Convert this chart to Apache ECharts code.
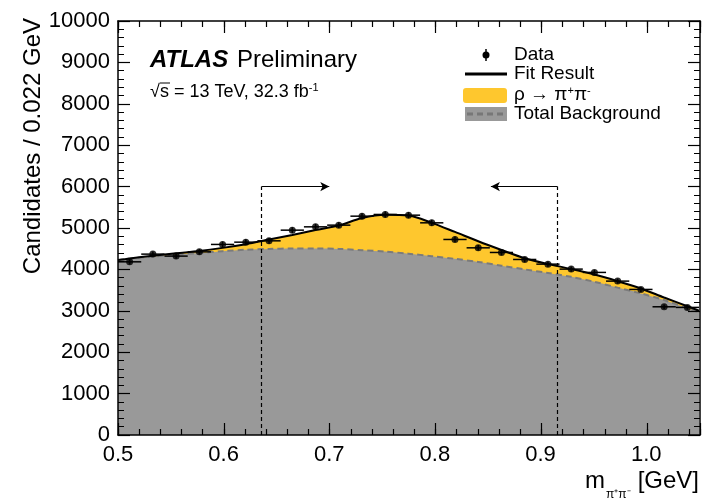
<!DOCTYPE html>
<html>
<head>
<meta charset="utf-8">
<title>rho to pi pi fit</title>
<script src="https://cdn.jsdelivr.net/npm/echarts@6.0.0/dist/echarts.min.js"></script>
<style>
  html, body { margin: 0; padding: 0; background: #fff; }
  #chart { width: 702px; height: 499px; }
</style>
</head>
<body>
<div id="chart"></div>
<script>
// bin centres (bin width 0.022 GeV)
const binCenters = [0.511, 0.533, 0.555, 0.577, 0.599, 0.621, 0.643, 0.665, 0.687, 0.709,
  0.731, 0.753, 0.775, 0.797, 0.819, 0.841, 0.863, 0.885, 0.907, 0.929,
  0.951, 0.973, 0.995, 1.017, 1.039];
const dataCounts = [4183, 4369, 4321, 4424, 4603, 4658, 4690, 4948, 5028, 5069,
  5286, 5327, 5310, 5125, 4723, 4521, 4409, 4240, 4127, 4007,
  3927, 3717, 3516, 3097, 3082];
const dataErrors = [65, 66, 66, 67, 68, 68, 68, 70, 71, 71,
  73, 73, 73, 72, 69, 67, 66, 65, 64, 63,
  63, 61, 59, 56, 56];

// curves read at the bin centres plus the range ends
const curveX = [0.5, 0.511, 0.533, 0.555, 0.577, 0.599, 0.621, 0.643, 0.665, 0.687, 0.709,
  0.731, 0.753, 0.775, 0.797, 0.819, 0.841, 0.863, 0.885, 0.907, 0.929,
  0.951, 0.973, 0.995, 1.017, 1.039, 1.05];
const fitTotal = [4225, 4265, 4330, 4390, 4445, 4520, 4610, 4720, 4830, 4950, 5060,
  5240, 5320, 5300, 5125, 4905, 4680, 4470, 4270, 4130, 4010,
  3875, 3715, 3540, 3320, 3110, 3000];
const background = [4220, 4260, 4310, 4360, 4395, 4440, 4475, 4495, 4505, 4505, 4495,
  4465, 4430, 4380, 4320, 4255, 4180, 4090, 4000, 3915, 3820,
  3700, 3560, 3420, 3260, 3060, 2965];

// mass window cuts
const cutLow = 0.636;
const cutHigh = 0.916;
const cutTop = 6000;
const arrowLowEnd = 0.70;
const arrowHighEnd = 0.853;

const yRange = [0, 10000];
const xRange = [0.5, 1.05];

const BIN_HALF = 0.011;
const FONT = "'Liberation Sans', Arial, Helvetica, sans-serif";
const YELLOW = "#fec72e";
const GREY = "#999999";

const chart = echarts.init(document.getElementById("chart"));

const pair = (xs, ys) => xs.map((x, i) => [x, ys[i]]);
const plotBox = { left: 118, right: 2, top: 21, bottom: 64 };

// grid 0 holds the data and the tick labels, grid 1 (same box) holds the frame and ticks
function labelX() {
  return {
    type: "value",
    gridIndex: 0,
    min: xRange[0],
    max: xRange[1],
    interval: 0.1,
    axisLine: { show: false },
    axisTick: { show: false },
    axisLabel: {
      color: "#000",
      fontSize: 22,
      fontFamily: FONT,
      margin: 9,
      formatter: (v) => (v > 1.01 ? "" : v.toFixed(1)),
    },
    splitLine: { show: false },
  };
}

function labelY() {
  return {
    type: "value",
    gridIndex: 0,
    min: yRange[0],
    max: yRange[1],
    interval: 1000,
    axisLine: { show: false },
    axisTick: { show: false },
    axisLabel: { color: "#000", fontSize: 22, fontFamily: FONT, margin: 8, formatter: (v) => String(v) },
    splitLine: { show: false },
  };
}

function frameX(pos, interval, len, showLine) {
  return {
    type: "value",
    gridIndex: 1,
    position: pos,
    z: 10,
    min: xRange[0],
    max: xRange[1],
    interval: interval,
    axisLine: { show: showLine, onZero: false, lineStyle: { color: "#000", width: 1.5 } },
    axisTick: { show: true, inside: true, length: len, lineStyle: { color: "#000", width: 1.2 } },
    axisLabel: { show: false },
    splitLine: { show: false },
  };
}

function frameY(pos) {
  return {
    type: "value",
    gridIndex: 1,
    position: pos,
    z: 10,
    min: yRange[0],
    max: yRange[1],
    interval: 1000,
    axisLine: { show: true, onZero: false, lineStyle: { color: "#000", width: 1.5 } },
    axisTick: { show: true, inside: true, length: 12, lineStyle: { color: "#000", width: 1.2 } },
    minorTick: { show: true, splitNumber: 5, length: 6, lineStyle: { color: "#000" } },
    axisLabel: { show: false },
    splitLine: { show: false },
  };
}

const option = {
  animation: false,
  grid: [Object.assign({}, plotBox), Object.assign({}, plotBox)],
  xAxis: [
    labelX(),
    frameX("bottom", 0.1, 12, true),
    frameX("bottom", 0.02, 6, false),
    frameX("top", 0.1, 12, true),
    frameX("top", 0.02, 6, false),
  ],
  yAxis: [labelY(), frameY("left"), frameY("right")],
  series: [
    {
      name: "rho",
      type: "line",
      data: pair(curveX, fitTotal),
      smooth: 0.3,
      symbol: "none",
      lineStyle: { width: 0 },
      areaStyle: { color: YELLOW, opacity: 1 },
      z: 1,
    },
    {
      name: "Total Background",
      type: "line",
      data: pair(curveX, background),
      smooth: 0.3,
      symbol: "none",
      lineStyle: { color: "#7b7b7b", width: 2, type: [6, 4] },
      areaStyle: { color: GREY, opacity: 1 },
      z: 2,
    },
    {
      name: "Fit Result",
      type: "line",
      data: pair(curveX, fitTotal),
      smooth: 0.3,
      symbol: "none",
      lineStyle: { color: "#000", width: 2 },
      z: 3,
      markLine: {
        silent: true,
        symbol: "none",
        label: { show: false },
        lineStyle: { color: "#000", width: 1.2, type: "solid" },
        data: [
          [
            { coord: [cutLow, 0], lineStyle: { type: [4, 3], color: "#000", width: 1.2 } },
            { coord: [cutLow, cutTop] },
          ],
          [
            { coord: [cutHigh, 0], lineStyle: { type: [4, 3], color: "#000", width: 1.2 } },
            { coord: [cutHigh, cutTop] },
          ],
          [
            { coord: [cutLow, cutTop] },
            { coord: [arrowLowEnd, cutTop], symbol: "arrow", symbolSize: [7, 9] },
          ],
          [
            { coord: [cutHigh, cutTop] },
            { coord: [arrowHighEnd, cutTop], symbol: "arrow", symbolSize: [7, 9] },
          ],
        ],
      },
    },
    {
      name: "errors",
      type: "custom",
      data: binCenters.map((x, i) => [x, dataCounts[i], dataErrors[i]]),
      z: 4,
      renderItem: (params, api) => {
        const x = api.value(0);
        const y = api.value(1);
        const e = api.value(2);
        const l = api.coord([x - BIN_HALF, y]);
        const r = api.coord([x + BIN_HALF, y]);
        const t = api.coord([x, y + e]);
        const b = api.coord([x, y - e]);
        return {
          type: "group",
          children: [
            { type: "line", shape: { x1: l[0], y1: l[1], x2: r[0], y2: r[1] }, style: { stroke: "#000", lineWidth: 1.5 } },
            { type: "line", shape: { x1: t[0], y1: t[1], x2: b[0], y2: b[1] }, style: { stroke: "#000", lineWidth: 1.5 } },
          ],
        };
      },
    },
    {
      name: "Data",
      type: "scatter",
      data: pair(binCenters, dataCounts),
      symbol: "circle",
      symbolSize: 7,
      itemStyle: { color: "#000" },
      z: 5,
    },
  ],
  graphic: [
    // y axis title
    {
      type: "text",
      x: 33,
      y: 18,
      rotation: Math.PI / 2,
      style: {
        text: "Candidates / 0.022 GeV",
        font: "24px " + FONT,
        fill: "#000",
        align: "right",
        verticalAlign: "middle",
      },
    },
    // x axis title
    {
      type: "text",
      x: 585,
      y: 493,
      style: { text: "m", font: "24px " + FONT, fill: "#000", align: "left", verticalAlign: "bottom" },
    },
    {
      type: "text",
      x: 606,
      y: 489,
      style: { text: "π⁺π⁻", font: "12px " + FONT, fill: "#000", align: "left", verticalAlign: "top" },
    },
    {
      type: "text",
      x: 699,
      y: 493,
      style: { text: "[GeV]", font: "24px " + FONT, fill: "#000", align: "right", verticalAlign: "bottom" },
    },
    // ATLAS label
    {
      type: "text",
      x: 150,
      y: 60,
      style: { text: "ATLAS", font: "italic bold 24px " + FONT, fill: "#000", verticalAlign: "middle" },
    },
    {
      type: "text",
      x: 237,
      y: 60,
      style: { text: "Preliminary", font: "24px " + FONT, fill: "#000", verticalAlign: "middle" },
    },
    {
      type: "text",
      x: 150,
      y: 92,
      style: {
        text: "√s = 13 TeV, 32.3 fb{sup|-1}",
        font: "18px " + FONT,
        fill: "#000",
        verticalAlign: "middle",
        rich: { sup: { fontSize: 11, fontFamily: FONT, verticalAlign: "top", padding: [0, 0, 8, 0] } },
      },
    },
    { type: "line", shape: { x1: 160, y1: 83, x2: 170, y2: 83 }, style: { stroke: "#000", lineWidth: 1 } },
    // legend
    { type: "line", shape: { x1: 486, y1: 49, x2: 486, y2: 61 }, style: { stroke: "#000", lineWidth: 1.5 } },
    { type: "circle", shape: { cx: 486, cy: 55, r: 3.5 }, style: { fill: "#000" } },
    { type: "text", x: 514, y: 55, style: { text: "Data", font: "19px " + FONT, fill: "#000", verticalAlign: "middle" } },
    { type: "line", shape: { x1: 465, y1: 74, x2: 507, y2: 74 }, style: { stroke: "#000", lineWidth: 3 } },
    { type: "text", x: 514, y: 74, style: { text: "Fit Result", font: "19px " + FONT, fill: "#000", verticalAlign: "middle" } },
    { type: "rect", shape: { x: 463, y: 88, width: 44, height: 15, r: 3 }, style: { fill: YELLOW } },
    {
      type: "text",
      x: 514,
      y: 95,
      style: {
        text: "ρ → π{sup|+}π{sup|-}",
        font: "19px " + FONT,
        fill: "#000",
        verticalAlign: "middle",
        rich: { sup: { fontSize: 11, fontFamily: FONT, verticalAlign: "top", padding: [0, 0, 8, 0] } },
      },
    },
    { type: "rect", shape: { x: 465, y: 107, width: 42, height: 14 }, style: { fill: GREY } },
    { type: "line", shape: { x1: 467, y1: 114, x2: 506, y2: 114 }, style: { stroke: "#777", lineWidth: 3, lineDash: [6, 4] } },
    { type: "text", x: 514, y: 114, style: { text: "Total Background", font: "19px " + FONT, fill: "#000", verticalAlign: "middle" } },
  ],
};

chart.setOption(option);
</script>
</body>
</html>
